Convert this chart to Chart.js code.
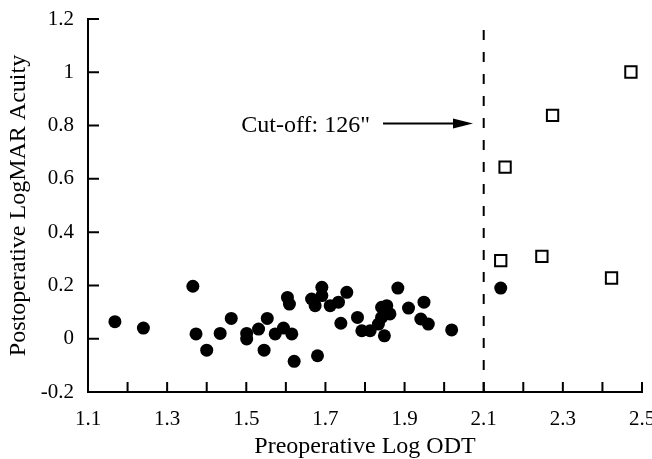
<!DOCTYPE html>
<html>
<head>
<meta charset="utf-8">
<script src="https://cdn.jsdelivr.net/npm/chart.js@4"></script>
<style>
  html, body { margin: 0; padding: 0; background: #fff; }
  #wrap { width: 652px; height: 459px; }
</style>
</head>
<body>
<div id="wrap"><canvas id="odtChart" width="652" height="459"></canvas></div>
<script>
// ojos por debajo del corte (circulos llenos)
const belowOdt = [1.168, 1.24, 1.365, 1.373, 1.40, 1.434, 1.462, 1.501, 1.501, 1.531, 1.553, 1.545, 1.573,
    1.594, 1.615, 1.604, 1.609, 1.621, 1.665, 1.674, 1.691, 1.691, 1.712, 1.733, 1.754, 1.68, 1.739,
    1.781, 1.792, 1.813, 1.842, 1.855, 1.863, 1.842, 1.834, 1.849, 1.883, 1.91, 1.949, 1.941, 1.96,
    2.019, 2.143];
const belowAcuity = [0.064, 0.04, 0.197, 0.018, -0.043, 0.02, 0.076, 0.02, -0.001, 0.036, 0.076, -0.043, 0.018,
    0.04, 0.018, 0.155, 0.13, -0.085, 0.149, 0.124, 0.193, 0.162, 0.124, 0.137, 0.174, -0.064, 0.058,
    0.08, 0.03, 0.03, 0.118, 0.124, 0.093, 0.08, 0.055, 0.011, 0.19, 0.115, 0.137, 0.074, 0.055,
    0.033, 0.19];
// ojos por encima del corte (cuadrados vacios)
const aboveOdt = [2.154, 2.143, 2.247, 2.274, 2.423, 2.472];
const aboveAcuity = [0.644, 0.293, 0.309, 0.838, 0.228, 1.001];

const cutoffOdt = 2.1;
const cutoffLineTop = 1.17;
const cutoffText = 'Cut-off: 126"';
const arrowTip = { x: 2.073, y: 0.808 };

const xTickValues = [1.1, 1.2, 1.3, 1.4, 1.5, 1.6, 1.7, 1.8, 1.9, 2.0, 2.1, 2.2, 2.3, 2.4, 2.5];
const xTickLabels = ['1.1', '', '1.3', '', '1.5', '', '1.7', '', '1.9', '', '2.1', '', '2.3', '', '2.5'];
const yTickValues = [-0.2, 0, 0.2, 0.4, 0.6, 0.8, 1, 1.2];
const yTickLabels = ['-0.2', '0', '0.2', '0.4', '0.6', '0.8', '1', '1.2'];

const FONT = '"Liberation Serif", "Times New Roman", serif';

function toPoints(xs, ys) {
    return xs.map((x, i) => ({ x: x, y: ys[i] }));
}

// marcas de los ejes hacia adentro + flecha y texto del corte
const decorPlugin = {
    id: 'decor',
    afterDatasetsDraw(chart) {
        const ctx = chart.ctx;
        const xs = chart.scales.x, ys = chart.scales.y;
        const area = chart.chartArea;
        ctx.save();
        ctx.strokeStyle = '#000';
        ctx.lineWidth = 2;
        ctx.beginPath();
        xTickValues.forEach(v => {
            const px = xs.getPixelForValue(v);
            ctx.moveTo(px, area.bottom);
            ctx.lineTo(px, area.bottom - 10);
        });
        yTickValues.forEach(v => {
            const py = ys.getPixelForValue(v);
            ctx.moveTo(area.left, py);
            ctx.lineTo(area.left + 11, py);
        });
        ctx.stroke();

        const tx = xs.getPixelForValue(arrowTip.x);
        const ty = ys.getPixelForValue(arrowTip.y);
        ctx.beginPath();
        ctx.moveTo(tx - 90, ty);
        ctx.lineTo(tx - 16, ty);
        ctx.stroke();
        ctx.fillStyle = '#000';
        ctx.beginPath();
        ctx.moveTo(tx, ty);
        ctx.lineTo(tx - 20, ty - 5);
        ctx.lineTo(tx - 20, ty + 5);
        ctx.closePath();
        ctx.fill();

        ctx.font = '24px ' + FONT;
        ctx.textAlign = 'right';
        ctx.textBaseline = 'middle';
        ctx.fillText(cutoffText, tx - 103, ty + 2);
        ctx.restore();
    }
};

const ctx = document.getElementById('odtChart').getContext('2d');
new Chart(ctx, {
    type: 'scatter',
    data: {
        datasets: [{
            label: 'Below cut-off',
            data: toPoints(belowOdt, belowAcuity),
            pointStyle: 'circle',
            pointRadius: 6.5,
            backgroundColor: '#000',
            borderColor: '#000',
            borderWidth: 0
        }, {
            label: 'Above cut-off',
            data: toPoints(aboveOdt, aboveAcuity),
            pointStyle: 'rect',
            pointRadius: 8,
            backgroundColor: '#fff',
            borderColor: '#000',
            borderWidth: 2
        }, {
            label: 'Cut-off',
            data: [{ x: cutoffOdt, y: yTickValues[0] }, { x: cutoffOdt, y: cutoffLineTop }],
            showLine: true,
            pointRadius: 0,
            borderColor: '#000',
            borderWidth: 2,
            borderDash: [10, 12]
        }]
    },
    options: {
        responsive: false,
        animation: false,
        layout: { padding: { top: 19, right: 10, left: 0, bottom: 0 } },
        plugins: {
            legend: { display: false },
            tooltip: { enabled: false }
        },
        scales: {
            x: {
                type: 'linear',
                min: 1.1,
                max: 2.5,
                afterBuildTicks: scale => { scale.ticks = xTickValues.map(v => ({ value: v })); },
                afterFit: scale => { scale.height = 67; scale.paddingRight = 0; scale.paddingLeft = 0; },
                grid: { display: false },
                border: { display: true, color: '#000', width: 2 },
                ticks: {
                    autoSkip: false,
                    maxRotation: 0,
                    padding: 7,
                    color: '#000',
                    font: { family: FONT, size: 21 },
                    callback: (value, index) => xTickLabels[index]
                },
                title: {
                    display: true,
                    text: 'Preoperative Log ODT',
                    color: '#000',
                    font: { family: FONT, size: 24, lineHeight: 1 },
                    padding: { top: 1, bottom: 0 }
                }
            },
            y: {
                type: 'linear',
                min: -0.2,
                max: 1.2,
                afterBuildTicks: scale => { scale.ticks = yTickValues.map(v => ({ value: v })); },
                afterFit: scale => { scale.width = 88; scale.paddingTop = 0; scale.paddingBottom = 0; },
                grid: { display: false },
                border: { display: true, color: '#000', width: 2 },
                ticks: {
                    autoSkip: false,
                    padding: 6,
                    color: '#000',
                    font: { family: FONT, size: 21 },
                    callback: (value, index) => yTickLabels[index]
                },
                title: {
                    display: true,
                    text: 'Postoperative LogMAR Acuity',
                    color: '#000',
                    font: { family: FONT, size: 24, lineHeight: 1 },
                    padding: { top: 7, bottom: 0 }
                }
            }
        }
    },
    plugins: [decorPlugin]
});
</script>
</body>
</html>
